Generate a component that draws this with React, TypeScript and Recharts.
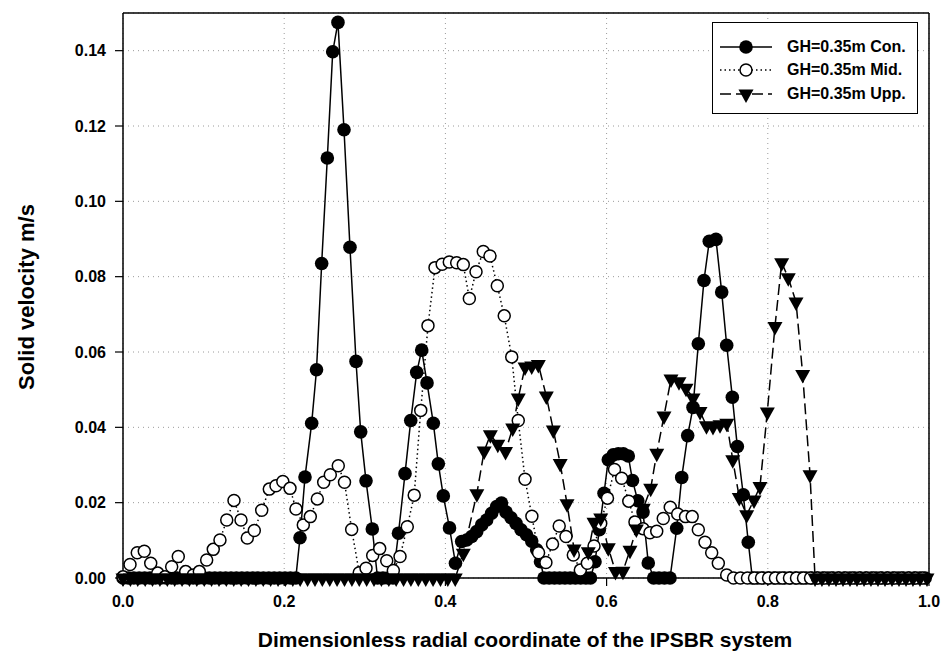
import React from 'react';
import {
  LineChart,
  Line,
  XAxis,
  YAxis,
  CartesianGrid,
  ReferenceLine,
} from 'recharts';

// Con. series (filled circles, solid line)
const conX = [
  0, 0.0067, 0.0134, 0.0201, 0.0268, 0.0335, 0.0402, 0.0469, 0.0536, 0.0603,
  0.067, 0.0737, 0.0804, 0.0871, 0.0938, 0.1005, 0.1072, 0.1139, 0.1206, 0.1273,
  0.134, 0.1407, 0.1474, 0.1541, 0.1608, 0.1675, 0.1742, 0.1809, 0.1876, 0.1943,
  0.201, 0.2077, 0.2144,
  0.2196, 0.2258, 0.2341, 0.2401, 0.2465, 0.2535, 0.2602, 0.2667, 0.2742, 0.2816, 0.2891, 0.2949, 0.3015, 0.3093,
  0.3158, 0.3225, 0.329, 0.335,
  0.3418, 0.3499, 0.357, 0.3644, 0.3706, 0.3772, 0.385, 0.3912, 0.3974, 0.4051, 0.4125,
  0.4202, 0.4264, 0.4326, 0.4388, 0.445, 0.4512, 0.4574, 0.4636, 0.4696, 0.4752, 0.4814, 0.4876, 0.4938, 0.5006, 0.5071, 0.5133, 0.518,
  0.5223, 0.5288, 0.5353, 0.5418, 0.5483, 0.5548, 0.5613, 0.5678, 0.5743, 0.58,
  0.5856, 0.591, 0.5968, 0.6021, 0.6083, 0.6145, 0.6207, 0.6269, 0.6321, 0.6387, 0.6452, 0.6517,
  0.6584, 0.665, 0.6718, 0.6787,
  0.687, 0.6932, 0.7006, 0.7072, 0.7138, 0.7208, 0.7274, 0.7357, 0.7428, 0.749, 0.756, 0.7622, 0.7696, 0.7758,
  0.7808, 0.7875, 0.7942, 0.8009, 0.8076, 0.8143, 0.821, 0.8277, 0.8344, 0.8411,
  0.8478, 0.8545, 0.8612, 0.8679, 0.8746, 0.8813, 0.888, 0.8947, 0.9014, 0.9081,
  0.9148, 0.9215, 0.9282, 0.9349, 0.9416, 0.9483, 0.955, 0.9617, 0.9684, 0.9751,
  0.9818, 0.9885, 0.9952,
];
const conY = [
  0, 0, 0, 0, 0, 0, 0, 0, 0, 0,
  0, 0, 0, 0, 0, 0, 0, 0, 0, 0,
  0, 0, 0, 0, 0, 0, 0, 0, 0, 0,
  0, 0, 0,
  0.0107, 0.0268, 0.0411, 0.0553, 0.0835, 0.1115, 0.1397, 0.1475, 0.119, 0.0878, 0.0575, 0.0388, 0.0258, 0.013,
  0, 0, 0, 0,
  0.0119, 0.0277, 0.0418, 0.0546, 0.0605, 0.0518, 0.0411, 0.0303, 0.0218, 0.0133, 0.0039,
  0.0097, 0.0101, 0.011, 0.0123, 0.0141, 0.0154, 0.0172, 0.019, 0.0199, 0.0175, 0.016, 0.0145, 0.0128, 0.0115, 0.0098, 0.0075, 0.0043,
  0, 0, 0, 0, 0, 0, 0, 0, 0, 0,
  0.0043, 0.0128, 0.0225, 0.0314, 0.0327, 0.033, 0.033, 0.0324, 0.0259, 0.0205, 0.0175, 0.004,
  0, 0, 0, 0,
  0.0132, 0.0267, 0.0378, 0.0453, 0.0622, 0.079, 0.0894, 0.0899, 0.0759, 0.0618, 0.048, 0.0349, 0.0221, 0.0095,
  0, 0, 0, 0, 0, 0, 0, 0, 0, 0,
  0, 0, 0, 0, 0, 0, 0, 0, 0, 0,
  0, 0, 0, 0, 0, 0, 0, 0, 0, 0,
  0, 0, 0,
];

// Mid. series (open circles, dotted line)
const midX = [
  0, 0.0087, 0.0177, 0.0264, 0.0344, 0.0431, 0.0521, 0.0604, 0.0686, 0.0778,
  0.0872, 0.0947, 0.1038, 0.112, 0.1203, 0.1287, 0.1377, 0.1464, 0.1542, 0.1629,
  0.1721, 0.1815, 0.1898, 0.1983, 0.2072, 0.2146, 0.2237, 0.2324, 0.2411, 0.249,
  0.2572, 0.2671, 0.2748, 0.2837, 0.2931, 0.3015, 0.3098, 0.3185, 0.3272, 0.3354,
  0.3437, 0.3527, 0.3613, 0.3694, 0.3784, 0.3871, 0.396, 0.4048, 0.414, 0.4222,
  0.4297, 0.438, 0.447, 0.4553, 0.4644, 0.473, 0.4823, 0.4904, 0.4988, 0.5073,
  0.5156, 0.5247, 0.5329, 0.5412, 0.5496, 0.5587, 0.5674, 0.5761, 0.5844, 0.5927,
  0.6011, 0.6098, 0.6187, 0.6275, 0.6352, 0.6452, 0.6538, 0.6622, 0.6703, 0.679,
  0.6882, 0.6979, 0.7062, 0.7138, 0.7221, 0.7304, 0.7386, 0.749, 0.7575, 0.7661,
  0.7748, 0.7835, 0.7922, 0.8009, 0.8095, 0.8182, 0.8269, 0.8356, 0.8443, 0.853,
  0.8617, 0.8703, 0.879, 0.8877, 0.8964, 0.9051, 0.9138, 0.9225, 0.9311, 0.9398,
  0.9485, 0.9572, 0.9659, 0.9746, 0.9833, 0.9919,
];
const midY = [
  0.0003, 0.0036, 0.0067, 0.0071, 0.0039, 0.0013, 0.0003, 0.003, 0.0057, 0.0017,
  0.0008, 0.0017, 0.0048, 0.0076, 0.0101, 0.0154, 0.0206, 0.0154, 0.0106, 0.0126,
  0.018, 0.0236, 0.0245, 0.0256, 0.0238, 0.0183, 0.0141, 0.0163, 0.021, 0.0254,
  0.0274, 0.0298, 0.0254, 0.0129, 0.0014, 0.0026, 0.006, 0.0078, 0.0046, 0.002,
  0.0057, 0.0136, 0.022, 0.0445, 0.067, 0.0824, 0.0833, 0.0839, 0.0837, 0.0832,
  0.0742, 0.0813, 0.0867, 0.0855, 0.0776, 0.0696, 0.0587, 0.0418, 0.0262, 0.0164,
  0.0067, 0.0041, 0.009, 0.0138, 0.011, 0.0061, 0.0021, 0.0039, 0.0085, 0.0145,
  0.0212, 0.0288, 0.0265, 0.0204, 0.0149, 0.0131, 0.012, 0.0124, 0.0158, 0.0188,
  0.017, 0.0163, 0.0163, 0.0128, 0.0095, 0.0067, 0.0039, 0.0008, 0, 0,
  0, 0, 0, 0, 0, 0, 0, 0, 0, 0,
  0, 0, 0, 0, 0, 0, 0, 0, 0, 0,
  0, 0, 0, 0, 0, 0,
];

// Upp. series (filled down triangles, dashed line)
const uppX = [
  0, 0.0092, 0.0183, 0.0275, 0.0366, 0.0458, 0.055, 0.0641, 0.0733, 0.0824,
  0.0916, 0.1008, 0.1099, 0.1191, 0.1282, 0.1374, 0.1466, 0.1557, 0.1649, 0.174,
  0.1832, 0.1924, 0.2015, 0.2107, 0.2198, 0.229, 0.2382, 0.2473, 0.2565, 0.2656,
  0.2748, 0.284, 0.2931, 0.3023, 0.3114, 0.3206, 0.3298, 0.3389, 0.3481, 0.3572,
  0.3664, 0.3756, 0.3847, 0.3939, 0.403, 0.4122,
  0.4222, 0.439, 0.4481, 0.4558, 0.465, 0.4746, 0.4835, 0.4904, 0.4988, 0.5071,
  0.5153, 0.5252, 0.5339, 0.5424, 0.5509, 0.5596, 0.5773, 0.5844, 0.5927, 0.6021,
  0.611, 0.6203, 0.629, 0.6369, 0.6455, 0.6547, 0.6622, 0.6712, 0.6799, 0.6898,
  0.6985, 0.7072, 0.7159, 0.7239, 0.732, 0.7407, 0.7491, 0.7565, 0.7646, 0.7738,
  0.7829, 0.7903, 0.7994, 0.8089, 0.8172, 0.8254, 0.835, 0.8433, 0.8524, 0.8586,
  0.8672, 0.8759, 0.8846, 0.8933, 0.902, 0.9107, 0.9194, 0.928, 0.9367, 0.9454,
  0.9541, 0.9628, 0.9715, 0.9801, 0.9888, 0.9975,
];
const uppY = [
  0, 0, 0, 0, 0, 0, 0, 0, 0, 0,
  0, 0, 0, 0, 0, 0, 0, 0, 0, 0,
  0, 0, 0, 0, 0, 0, 0, 0, 0, 0,
  0, 0, 0, 0, 0, 0, 0, 0, 0, 0,
  0, 0, 0, 0, 0, 0,
  0.0066, 0.0224, 0.0337, 0.038, 0.0355, 0.0336, 0.0398, 0.0478, 0.056, 0.0563,
  0.0567, 0.0483, 0.0393, 0.0304, 0.0197, 0.0077, 0.007, 0.0148, 0.0159, 0.008,
  0.0017, 0.0018, 0.0074, 0.013, 0.0185, 0.0238, 0.0331, 0.043, 0.0528, 0.0521,
  0.0504, 0.0478, 0.0442, 0.0404, 0.0402, 0.0407, 0.0411, 0.0314, 0.0214, 0.0168,
  0.0207, 0.0243, 0.0441, 0.0668, 0.0837, 0.0797, 0.0733, 0.054, 0.0274, 0,
  0, 0, 0, 0, 0, 0, 0, 0, 0, 0,
  0, 0, 0, 0, 0, 0,
];

const xTicks = [0, 0.2, 0.4, 0.6, 0.8, 1.0];
const yTicks = [0, 0.02, 0.04, 0.06, 0.08, 0.1, 0.12, 0.14];

const seriesNames = ['GH=0.35m Con.', 'GH=0.35m Mid.', 'GH=0.35m Upp.'];

const toPoints = (xs: number[], ys: number[]) => xs.map((x, i) => ({ x, y: ys[i] }));
const conData = toPoints(conX, conY);
const midData = toPoints(midX, midY);
const uppData = toPoints(uppX, uppY);

const FONT = '"Liberation Sans", Arial, Helvetica, sans-serif';

const ConDot = (p: any) =>
  p.cx == null ? null : <circle key={`con-${p.index}`} cx={p.cx} cy={p.cy} r={6.8} fill="#000" />;

const MidDot = (p: any) =>
  p.cx == null ? null : (
    <circle key={`mid-${p.index}`} cx={p.cx} cy={p.cy} r={6} fill="#fff" stroke="#000" strokeWidth={1.5} />
  );

const UppDot = (p: any) =>
  p.cx == null ? null : (
    <path
      key={`upp-${p.index}`}
      d={`M${p.cx - 7.5},${p.cy - 4.5} L${p.cx + 7.5},${p.cy - 4.5} L${p.cx},${p.cy + 9} Z`}
      fill="#000"
    />
  );

// legend sample symbols
function LegendSymbol({ kind }: { kind: number }) {
  const dash = kind === 0 ? undefined : kind === 1 ? '1.5 3' : '11 5';
  return (
    <svg width={56} height={22} style={{ display: 'block' }}>
      <line x1={2} y1={11} x2={54} y2={11} stroke="#000" strokeWidth={1.5} strokeDasharray={dash} />
      {kind === 0 && <circle cx={28} cy={11} r={6.8} fill="#000" />}
      {kind === 1 && <circle cx={28} cy={11} r={6} fill="#fff" stroke="#000" strokeWidth={1.5} />}
      {kind === 2 && <path d="M20.5,6.5 L35.5,6.5 L28,20 Z" fill="#000" />}
    </svg>
  );
}

export default function App() {
  const tickStyle = { fill: '#000', fontSize: 16, fontWeight: 'bold', fontFamily: FONT };
  return (
    <div style={{ position: 'absolute', left: 0, top: 0, width: 951, height: 659, background: '#fff' }}>
      <LineChart width={951} height={659} margin={{ top: 13, right: 22, bottom: 0, left: 0 }}>
        <CartesianGrid stroke="#9a9a9a" strokeDasharray="1 4" />
        <XAxis
          type="number"
          dataKey="x"
          domain={[0, 1]}
          ticks={xTicks}
          tickFormatter={(v: number) => v.toFixed(1)}
          height={81}
          tickSize={8}
          tickMargin={10}
          axisLine={{ stroke: '#000', strokeWidth: 1.5 }}
          tickLine={{ stroke: '#000', strokeWidth: 1.2 }}
          tick={tickStyle}
        />
        <YAxis
          type="number"
          dataKey="y"
          domain={[0, 0.15]}
          ticks={yTicks}
          tickFormatter={(v: number) => v.toFixed(2)}
          width={123}
          tickSize={8}
          tickMargin={9}
          axisLine={{ stroke: '#000', strokeWidth: 1.5 }}
          tickLine={{ stroke: '#000', strokeWidth: 1.2 }}
          tick={tickStyle}
        />
        <ReferenceLine y={0.15} stroke="#000" strokeWidth={1.5} />
        <ReferenceLine x={1} stroke="#000" strokeWidth={1.5} />
        <Line
          data={conData}
          dataKey="y"
          name={seriesNames[0]}
          type="linear"
          stroke="#000"
          strokeWidth={1.5}
          dot={ConDot}
          activeDot={false}
          isAnimationActive={false}
        />
        <Line
          data={midData}
          dataKey="y"
          name={seriesNames[1]}
          type="linear"
          stroke="#000"
          strokeWidth={1.5}
          strokeDasharray="1.5 3"
          dot={MidDot}
          activeDot={false}
          isAnimationActive={false}
        />
        <Line
          data={uppData}
          dataKey="y"
          name={seriesNames[2]}
          type="linear"
          stroke="#000"
          strokeWidth={1.5}
          strokeDasharray="11 5"
          dot={UppDot}
          activeDot={false}
          isAnimationActive={false}
        />
      </LineChart>

      {/* axis titles */}
      <div
        style={{
          position: 'absolute',
          left: 27,
          top: 297,
          transform: 'translate(-50%, -50%) rotate(-90deg)',
          whiteSpace: 'nowrap',
          fontFamily: FONT,
          fontWeight: 'bold',
          fontSize: 22,
        }}
      >
        Solid velocity m/s
      </div>
      <div
        style={{
          position: 'absolute',
          left: 525,
          top: 640,
          transform: 'translate(-50%, -50%)',
          whiteSpace: 'nowrap',
          fontFamily: FONT,
          fontWeight: 'bold',
          fontSize: 21,
        }}
      >
        Dimensionless radial coordinate of the IPSBR system
      </div>

      {/* legend */}
      <div
        style={{
          position: 'absolute',
          left: 712,
          top: 22,
          width: 206,
          height: 92,
          boxSizing: 'border-box',
          border: '1.5px solid #000',
          background: '#fff',
          padding: '12px 0 0 5px',
        }}
      >
        {seriesNames.map((name, i) => (
          <div key={name} style={{ display: 'flex', alignItems: 'center', height: 23.5 }}>
            <LegendSymbol kind={i} />
            <span
              style={{
                marginLeft: 13,
                fontFamily: FONT,
                fontWeight: 'bold',
                fontSize: 16,
                whiteSpace: 'nowrap',
              }}
            >
              {name}
            </span>
          </div>
        ))}
      </div>
    </div>
  );
}
